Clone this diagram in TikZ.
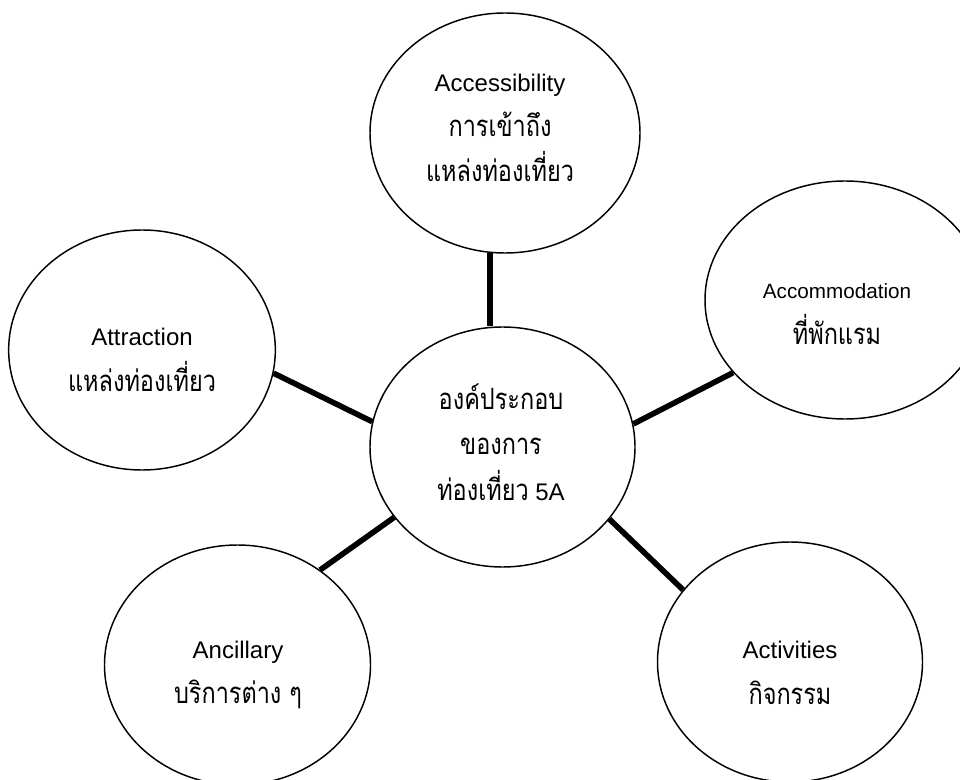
\documentclass[tikz,border=0pt]{standalone}
\usepackage{fontspec}
\setmainfont{Liberation Sans}
\newfontfamily\thaifont[Script=Thai,FakeStretch=0.8]{Loma}
\usetikzlibrary{shapes.geometric}
\newcommand\thaitxt[1]{{\thaifont\fontsize{22}{34}\selectfont #1}}

\begin{document}
\begin{tikzpicture}[x=0.75pt,y=-0.75pt,
  bubble/.style={draw, ellipse, line width=1.1pt, inner sep=0pt,
    minimum width=200pt, minimum height=180pt},
  txt/.style={align=center, inner sep=0pt, font=\fontsize{18}{34}\selectfont},
  link/.style={line width=4.2pt}]
\useasboundingbox (0,0) rectangle (960,780);
\clip (0,0) rectangle (960,780);

% the hub and its five satellites
\node[bubble, minimum width=198.75pt] (ctr) at (502.5,447) {};
\node[bubble, minimum width=202.5pt] (acc) at (505,133) {};
\node[bubble, minimum width=210pt, minimum height=178.5pt] (accom) at (845,300) {};
\node[bubble] (attr) at (142,350) {};
\node[bubble, minimum width=199.5pt] (anc) at (237.5,665) {};
\node[bubble, minimum width=198.75pt] (act) at (790,662) {};

% spokes
\draw[link] (acc.263) -- (acc.263 |- ctr.north);
\draw[link] (accom.213.1) -- (ctr.10.7);
\draw[link] (attr.350.2) -- (ctr.169.3);
\draw[link] (anc.49.2) -- (ctr.213.4);
\draw[link] (act.146.1) -- (ctr.326.6);

% labels
\node[txt] (ctr-t) at (501,442) {\thaitxt{องค์ประกอบ}\\ \thaitxt{ของการ}\\ \thaitxt{ท่องเที่ยว} 5A};
\node[txt] (acc-t) at (500,128) {Accessibility\\ \thaitxt{การเข้าถึง}\\ \thaitxt{แหล่งท่องเที่ยว}};
\node[txt] (accom-t) at (837,314) {{\fontsize{15.5}{34}\selectfont Accommodation}\\ \thaitxt{ที่พักแรม}};
\node[txt] (attr-t) at (142,360) {Attraction\\ \thaitxt{แหล่งท่องเที่ยว}};
\node[txt] (anc-t) at (238,675) {Ancillary\\ \thaitxt{บริการต่าง ๆ}};
\node[txt] (act-t) at (790,673) {Activities\\ \thaitxt{กิจกรรม}};
\end{tikzpicture}
\end{document}
